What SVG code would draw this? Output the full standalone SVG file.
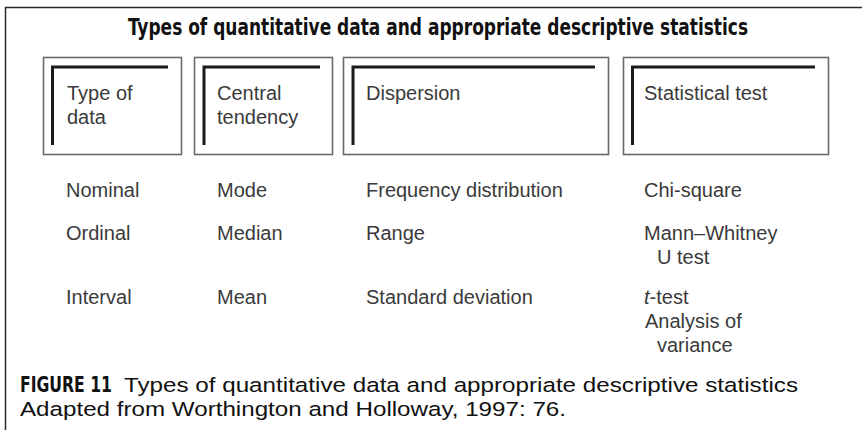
<svg xmlns="http://www.w3.org/2000/svg" width="862" height="430" viewBox="0 0 862 430">
<style>
.frame{fill:none;stroke:#2a2a2a;stroke-width:1.5}
.box{fill:#fff;stroke:#6a6a6a;stroke-width:1.6}
.ell{fill:none;stroke:#1a1a1a;stroke-width:3}
.t{font-family:"Liberation Sans",Arial,sans-serif;font-size:20px;fill:#3a3a3a}
.title{font-family:"DejaVu Sans Condensed","Liberation Sans",sans-serif;font-stretch:condensed;font-weight:bold;font-size:20px;fill:#111}
.cap{font-family:"Liberation Sans",Arial,sans-serif;font-size:20.5px;fill:#111}
.capb{font-family:"DejaVu Sans Condensed","Liberation Sans",sans-serif;font-stretch:condensed;font-weight:bold;font-size:21px;fill:#111}
</style>
<rect width="862" height="430" fill="#fff"/>
<g id="frame">
<path class="frame" d="M5.5 430 V7.5 H862"/>
</g>
<text id="title" class="title" transform="translate(128 35) scale(1 1.15)" x="0" y="0" textLength="620" lengthAdjust="spacingAndGlyphs">Types of quantitative data and appropriate descriptive statistics</text>
<g id="box-type">
<rect class="box" x="43.5" y="57.5" width="138" height="97"/>
<path class="ell" d="M52.5 145 V67 H168"/>
<text class="t" x="67" y="100">Type of</text>
<text class="t" x="67" y="124">data</text>
</g>
<g id="box-central">
<rect class="box" x="194.5" y="57.5" width="138" height="97"/>
<path class="ell" d="M204 145 V67 H320"/>
<text class="t" x="217" y="100">Central</text>
<text class="t" x="217" y="124">tendency</text>
</g>
<g id="box-dispersion">
<rect class="box" x="343.5" y="57.5" width="265" height="97"/>
<path class="ell" d="M353 145 V67 H595"/>
<text class="t" x="366" y="100">Dispersion</text>
</g>
<g id="box-test">
<rect class="box" x="623.5" y="57.5" width="205" height="97"/>
<path class="ell" d="M632.5 145 V67 H815"/>
<text class="t" x="644" y="100">Statistical test</text>
</g>
<g id="connectors"></g>
<g id="rows">
<text class="t" x="66" y="197">Nominal</text>
<text class="t" x="217" y="197">Mode</text>
<text class="t" x="366" y="197">Frequency distribution</text>
<text class="t" x="644" y="197">Chi-square</text>
<text class="t" x="66" y="240">Ordinal</text>
<text class="t" x="217" y="240">Median</text>
<text class="t" x="366" y="240">Range</text>
<text class="t" x="644" y="240">Mann–Whitney</text>
<text class="t" x="657" y="264">U test</text>
<text class="t" x="66" y="304">Interval</text>
<text class="t" x="217" y="304">Mean</text>
<text class="t" x="366" y="304">Standard deviation</text>
<text class="t" x="644" y="304"><tspan font-style="italic">t</tspan>-test</text>
<text class="t" x="645" y="328">Analysis of</text>
<text class="t" x="657" y="352">variance</text>
</g>
<g id="caption">
<text class="capb" x="20" y="392" textLength="92" lengthAdjust="spacingAndGlyphs">FIGURE 11</text>
<text class="cap" x="124" y="392" textLength="674" lengthAdjust="spacingAndGlyphs">Types of quantitative data and appropriate descriptive statistics</text>
<text class="cap" x="20" y="416" textLength="546" lengthAdjust="spacingAndGlyphs">Adapted from Worthington and Holloway, 1997: 76.</text>
</g>
</svg>
